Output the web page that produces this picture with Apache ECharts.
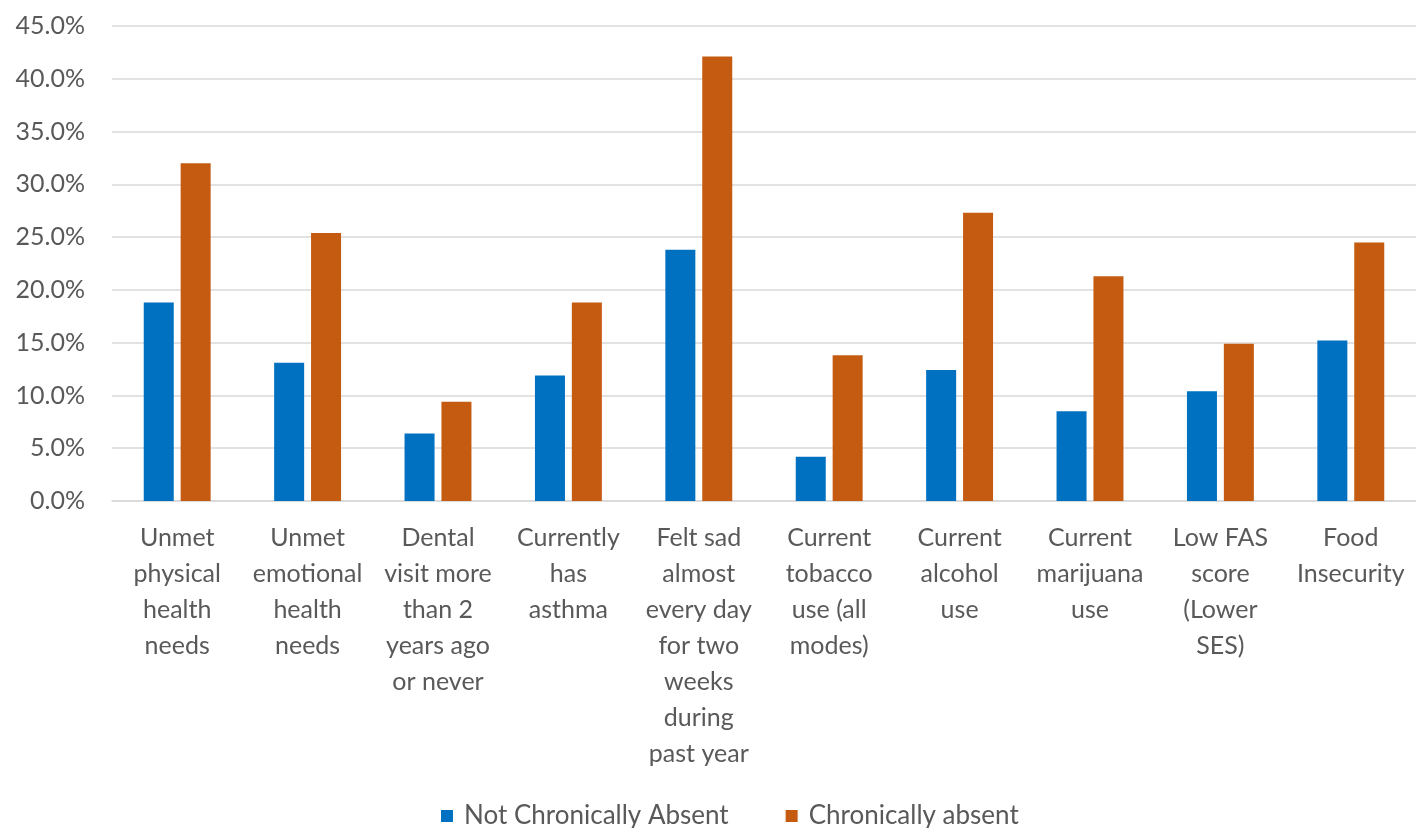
<!DOCTYPE html>
<html>
<head>
<meta charset="utf-8">
<script src="https://cdn.jsdelivr.net/npm/echarts@6/dist/echarts.min.js"></script>
<style>
  html, body { margin: 0; padding: 0; background: #ffffff; }
  #chart { width: 1416px; height: 828px; }
</style>
</head>
<body>
<div id="chart"></div>
<script>
// Health indicators by chronic absence status (percent of students)
const categories = [
  'Unmet\nphysical\nhealth\nneeds',
  'Unmet\nemotional\nhealth\nneeds',
  'Dental\nvisit more\nthan 2\nyears ago\nor never',
  'Currently\nhas\nasthma',
  'Felt sad\nalmost\nevery day\nfor two\nweeks\nduring\npast year',
  'Current\ntobacco\nuse (all\nmodes)',
  'Current\nalcohol\nuse',
  'Current\nmarijuana\nuse',
  'Low FAS\nscore\n(Lower\nSES)',
  'Food\nInsecurity'
];
const seriesNames = ['Not Chronically Absent', 'Chronically absent'];
const notChronicallyAbsent = [18.8, 13.1, 6.4, 11.9, 23.8, 4.2, 12.4, 8.5, 10.4, 15.2];
const chronicallyAbsent   = [32.0, 25.4, 9.4, 18.8, 42.1, 13.8, 27.3, 21.3, 14.9, 24.5];
const yTicks = { min: 0, max: 45, step: 5 };

const textColor = '#595959';
const fontFamily = 'Lato, "Noto Sans", sans-serif';

const chart = echarts.init(document.getElementById('chart'), null, { renderer: 'canvas' });
chart.setOption({
  animation: false,
  textStyle: { fontFamily: fontFamily, color: textColor },
  // plot area runs slightly past the right edge of the canvas
  grid: { left: 112, top: 26, width: 1308, height: 475, containLabel: false },
  legend: {
    data: seriesNames,
    top: 803,
    left: 441,
    padding: 0,
    icon: 'rect',
    itemWidth: 12,
    itemHeight: 12,
    itemGap: 57,
    textStyle: {
      fontSize: 26,
      color: textColor,
      fontFamily: fontFamily,
      padding: [0, 0, 0, 6]
    }
  },
  xAxis: {
    type: 'category',
    data: categories,
    axisTick: { show: false },
    axisLine: { lineStyle: { color: '#d9d9d9', width: 1.5 } },
    axisLabel: {
      interval: 0,
      margin: 19,
      fontSize: 25,
      lineHeight: 36,
      color: textColor,
      fontFamily: fontFamily,
      align: 'center'
    }
  },
  yAxis: {
    type: 'value',
    min: yTicks.min,
    max: yTicks.max,
    interval: yTicks.step,
    axisLine: { show: false },
    axisTick: { show: false },
    splitLine: { lineStyle: { color: '#d9d9d9', width: 1.5 } },
    axisLabel: {
      margin: 27,
      fontSize: 25,
      color: textColor,
      fontFamily: fontFamily,
      formatter: v => v.toFixed(1) + '%'
    }
  },
  series: [
    {
      name: seriesNames[0],
      type: 'bar',
      data: notChronicallyAbsent,
      barWidth: 30,
      barGap: '23%',
      itemStyle: { color: '#0070C0' }
    },
    {
      name: seriesNames[1],
      type: 'bar',
      data: chronicallyAbsent,
      barWidth: 30,
      barGap: '23%',
      itemStyle: { color: '#C55A11' }
    }
  ]
});
</script>
</body>
</html>
